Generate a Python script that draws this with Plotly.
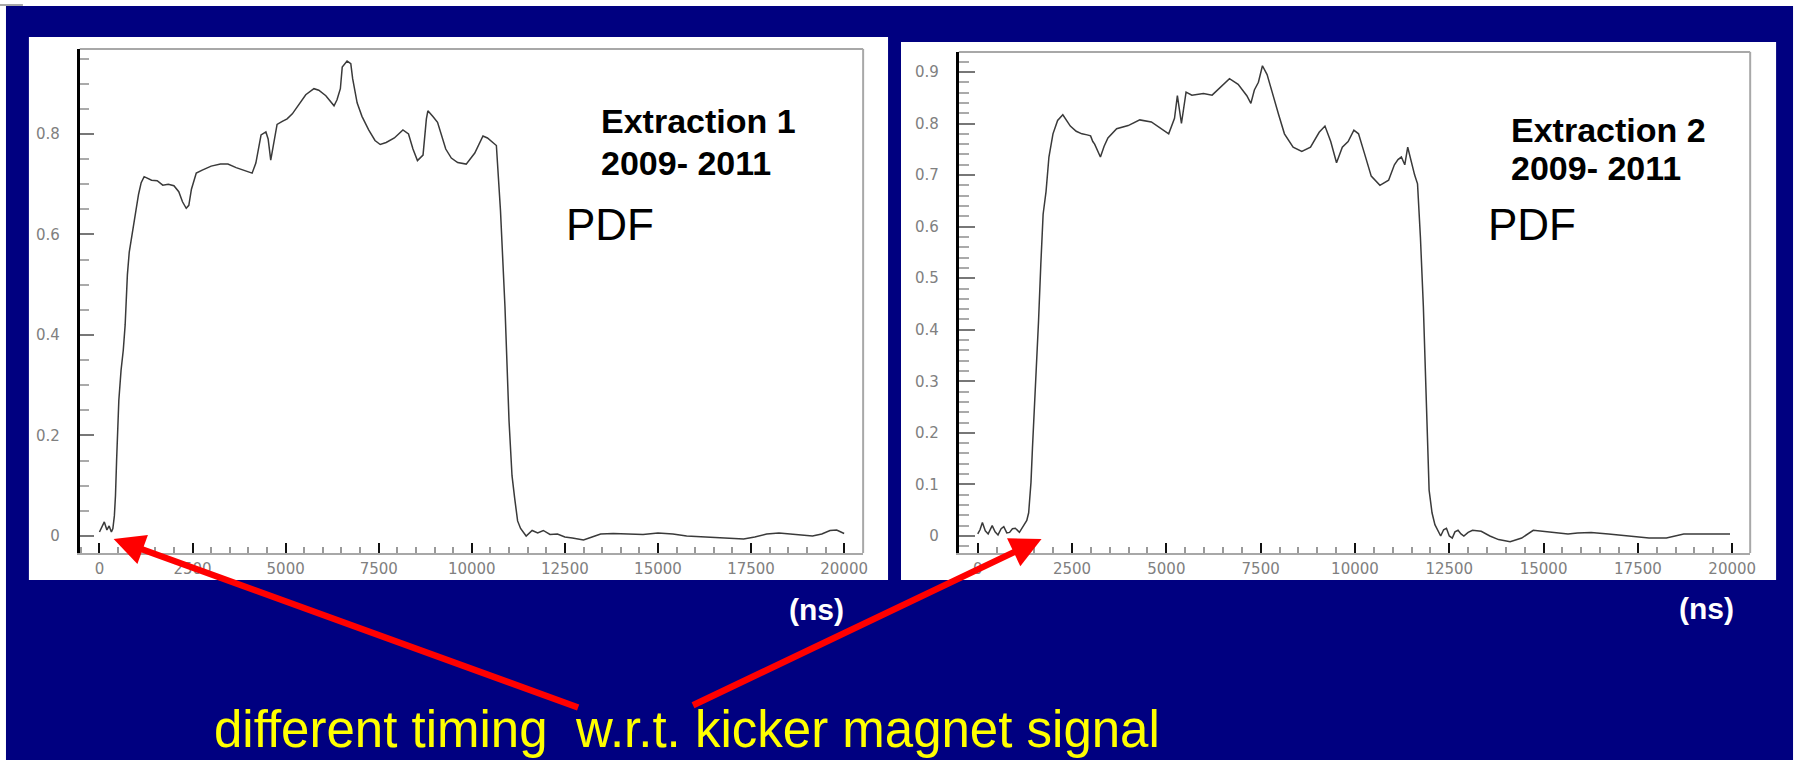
import plotly.graph_objects as go

# ---------------- data ----------------
ext1_ns = [0, 60, 130, 200, 260, 320, 360, 400, 430, 460, 520, 580, 640, 690, 750, 800, 860, 920, 980,
           1050, 1120, 1200, 1300, 1400, 1550, 1700, 1850, 2000, 2130, 2230, 2330, 2400, 2470, 2600,
           2760, 3000, 3250, 3450, 3670, 3900, 4100, 4200, 4290, 4340, 4470, 4530, 4600, 4690, 4770,
           4910, 5040, 5180, 5360, 5540, 5760, 5890, 6080, 6300, 6380, 6470, 6520, 6650, 6750, 6800,
           6920, 7050, 7230, 7400, 7540, 7700, 7920, 8150, 8300, 8420, 8540, 8690, 8780, 8820, 8950,
           9080, 9300, 9450, 9620, 9850, 10080, 10300, 10420, 10540, 10660, 10770, 10890, 11000, 11080,
           11150, 11230, 11310, 11460, 11620, 11770, 11920, 12100, 12300, 12500, 12700, 13000, 13230,
           13460, 13800, 14230, 14600, 15000, 15400, 15770, 16200, 16700, 17300, 17600, 17920, 18250,
           18540, 18850, 19150, 19400, 19620, 19800, 20000]
ext1_pdf = [0.008, 0.018, 0.028, 0.012, 0.02, 0.008, 0.015, 0.04, 0.08, 0.15, 0.27, 0.33, 0.37, 0.42,
            0.52, 0.565, 0.59, 0.62, 0.648, 0.68, 0.703, 0.715, 0.712, 0.708, 0.707, 0.698, 0.70, 0.697,
            0.685, 0.665, 0.652, 0.658, 0.69, 0.722, 0.728, 0.736, 0.74, 0.74, 0.733, 0.727, 0.722,
            0.742, 0.774, 0.798, 0.804, 0.79, 0.748, 0.79, 0.819, 0.825, 0.83, 0.84, 0.858, 0.878, 0.89,
            0.887, 0.876, 0.856, 0.868, 0.89, 0.933, 0.945, 0.94, 0.91, 0.862, 0.835, 0.808, 0.787,
            0.779, 0.783, 0.792, 0.808, 0.80, 0.77, 0.747, 0.758, 0.83, 0.846, 0.835, 0.823, 0.77,
            0.752, 0.743, 0.74, 0.762, 0.796, 0.792, 0.785, 0.777, 0.648, 0.457, 0.229, 0.12, 0.076,
            0.03, 0.015, 0.0, 0.011, 0.006, 0.011, 0.003, 0.004, -0.002, -0.004, -0.008, -0.002, 0.004,
            0.005, 0.004, 0.003, 0.006, 0.004, 0.0, -0.002, -0.004, -0.006, -0.002, 0.004, 0.006, 0.004,
            0.002, 0.0, 0.004, 0.011, 0.012, 0.005]

ext2_ns = [0, 60, 123, 200, 276, 383, 460, 537, 620, 690, 770, 844, 920, 997, 1104, 1227, 1300, 1350,
           1411, 1450, 1488, 1549, 1611, 1672, 1733, 1810, 1887, 1994, 2117, 2255, 2454, 2610, 2761,
           2900, 2991, 3050, 3099, 3252, 3350, 3451, 3682, 3988, 4295, 4602, 4909, 5062, 5216, 5292,
           5400, 5522, 5676, 5983, 6213, 6443, 6673, 6903, 7133, 7240, 7333, 7440, 7547, 7670, 7823,
           7977, 8130, 8360, 8590, 8821, 9051, 9204, 9357, 9511, 9664, 9818, 9971, 10094, 10247, 10431,
           10661, 10891, 11045, 11140, 11229, 11320, 11398, 11505, 11582, 11658, 11735, 11812, 11888,
           11965, 12042, 12119, 12272, 12350, 12425, 12500, 12579, 12650, 12732, 12810, 12886, 13000,
           13116, 13346, 13576, 13806, 14113, 14420, 14726, 15187, 15647, 15900, 16260, 16721, 17181,
           17794, 18255, 18715, 19328, 19942]
ext2_pdf = [0.004, 0.012, 0.026, 0.01, 0.004, 0.02, 0.008, 0.002, 0.014, 0.018, 0.006, 0.007, 0.014,
            0.015, 0.007, 0.02, 0.03, 0.045, 0.104, 0.17, 0.23, 0.297, 0.416, 0.527, 0.624, 0.668,
            0.735, 0.78, 0.806, 0.817, 0.795, 0.785, 0.78, 0.778, 0.776, 0.765, 0.76, 0.735, 0.756,
            0.772, 0.79, 0.796, 0.807, 0.803, 0.787, 0.78, 0.81, 0.854, 0.80, 0.861, 0.855, 0.858,
            0.855, 0.872, 0.887, 0.876, 0.854, 0.839, 0.865, 0.88, 0.912, 0.895, 0.854, 0.817, 0.78,
            0.754, 0.746, 0.754, 0.783, 0.795, 0.765, 0.724, 0.754, 0.765, 0.787, 0.78, 0.743, 0.698,
            0.68, 0.69, 0.72, 0.73, 0.735, 0.72, 0.754, 0.72, 0.70, 0.683, 0.579, 0.446, 0.26, 0.089,
            0.045, 0.022, 0.0, 0.012, 0.015, 0.0, -0.004, 0.008, 0.011, 0.004, 0.0, 0.007, 0.011,
            0.009, 0.0, -0.007, -0.011, -0.004, 0.011, 0.007, 0.004, 0.006, 0.007, 0.004, 0.0, -0.004,
            -0.004, 0.004, 0.004, 0.004]

x_tickvals = [0, 2500, 5000, 7500, 10000, 12500, 15000, 17500, 20000]
x_ticktext = ["0", "2500", "5000", "7500", "10000", "12500", "15000", "17500", "20000"]
y1_tickvals = [0, 0.2, 0.4, 0.6, 0.8]
y1_ticktext = ["0", "0.2", "0.4", "0.6", "0.8"]
y2_tickvals = [0, 0.1, 0.2, 0.3, 0.4, 0.5, 0.6, 0.7, 0.8, 0.9]
y2_ticktext = ["0", "0.1", "0.2", "0.3", "0.4", "0.5", "0.6", "0.7", "0.8", "0.9"]

titles = ["Extraction 1", "Extraction 2"]
period = "2009- 2011"
pdf_label = "PDF"
unit_label = "(ns)"
caption = "different timing  w.r.t. kicker magnet signal"

# ---------------- layout helpers ----------------
W, H = 1809, 760
def px(x):
    return x / W
def py(y):
    return 1 - y / H

NAVY = "#000080"
CURVE = "#3a3a3a"
TICKFONT = dict(family="DejaVu Sans, Liberation Sans, Arial", size=15, color="#808080")

fig = go.Figure()
fig.add_trace(go.Scatter(x=ext1_ns, y=ext1_pdf, mode="lines", line=dict(color=CURVE, width=1.5),
                         xaxis="x", yaxis="y", showlegend=False, hoverinfo="skip"))
fig.add_trace(go.Scatter(x=ext2_ns, y=ext2_pdf, mode="lines", line=dict(color=CURVE, width=1.5),
                         xaxis="x2", yaxis="y2", showlegend=False, hoverinfo="skip"))

def xax(domain, rng, anchor):
    return dict(domain=domain, range=rng, anchor=anchor, showgrid=False, zeroline=False,
                showline=True, linecolor="#a8a8a8", linewidth=2,
                ticks="inside", ticklen=10, tickwidth=2, tickcolor="#111",
                tickmode="array", tickvals=x_tickvals, ticktext=x_ticktext,
                minor=dict(ticks="inside", ticklen=6, tickwidth=2, tickcolor="#999",
                           tickmode="linear", tick0=0, dtick=500),
                ticklabelstandoff=1, tickfont=TICKFONT, fixedrange=True)

def yax(domain, rng, anchor, vals, texts, mdt, majlen, minlen):
    return dict(domain=domain, range=rng, anchor=anchor, showgrid=False, zeroline=False,
                showline=True, linecolor="#000", linewidth=3,
                ticks="inside", ticklen=majlen, tickwidth=2, tickcolor="#777",
                tickmode="array", tickvals=vals, ticktext=texts,
                minor=dict(ticks="inside", ticklen=minlen, tickwidth=2, tickcolor="#aaa",
                           tickmode="linear", tick0=0, dtick=mdt),
                ticklabelstandoff=14, tickfont=TICKFONT, fixedrange=True)

# plot-area pixel boxes
L = dict(x0=80, x1=866, y0=49, y1=553)
R = dict(x0=962, x1=1756, y0=52, y1=553)

fig.update_layout(
    width=W, height=H, margin=dict(l=0, r=0, t=0, b=0),
    paper_bgcolor="white", plot_bgcolor="rgba(0,0,0,0)",
    xaxis=xax([px(L["x0"]), px(L["x1"])], [-530, 20510], "y"),
    yaxis=yax([py(L["y1"]), py(L["y0"])], [-0.0338, 0.969], "x", y1_tickvals, y1_ticktext, 0.05, 14, 9),
    xaxis2=xax([px(R["x0"]), px(R["x1"])], [-502, 20476], "y2"),
    yaxis2=yax([py(R["y1"]), py(R["y0"])], [-0.033, 0.9387], "x2", y2_tickvals, y2_ticktext, 0.02, 16, 10),
)

shapes = []
# navy slide background
shapes.append(dict(type="rect", xref="paper", yref="paper", x0=px(6), x1=px(1799), y0=py(760), y1=py(6),
                   fillcolor=NAVY, line=dict(width=0), layer="below"))
# small grey mark top-left
shapes.append(dict(type="line", xref="paper", yref="paper", x0=px(0), x1=px(23), y0=py(5), y1=py(5),
                   line=dict(color="#a8a8a8", width=2), layer="below"))
# white chart panels
shapes.append(dict(type="rect", xref="paper", yref="paper", x0=px(29), x1=px(891), y0=py(580), y1=py(37),
                   fillcolor="white", line=dict(width=0), layer="below"))
shapes.append(dict(type="rect", xref="paper", yref="paper", x0=px(904), x1=px(1782), y0=py(580), y1=py(42),
                   fillcolor="white", line=dict(width=0), layer="below"))
# grey top/right frame lines
for xr, yr in (("x domain", "y domain"), ("x2 domain", "y2 domain")):
    shapes.append(dict(type="line", xref=xr, yref=yr, x0=0, x1=1, y0=1, y1=1,
                       line=dict(color="#a8a8a8", width=2), layer="below"))
    shapes.append(dict(type="line", xref=xr, yref=yr, x0=1, x1=1, y0=0, y1=1,
                       line=dict(color="#a8a8a8", width=2), layer="below"))
fig.update_layout(shapes=shapes)

ARIAL = "Liberation Sans, Arial, sans-serif"
ann = []
def txt(x, y, s, size, color="black", bold=False):
    ann.append(dict(xref="paper", yref="paper", x=px(x), y=py(y), xanchor="left", yanchor="middle",
                    text=("<b>%s</b>" % s) if bold else s, showarrow=False,
                    font=dict(family=ARIAL, size=size, color=color)))

txt(601, 121, titles[0], 34, bold=True)
txt(601, 163, period, 34, bold=True)
txt(566, 224, pdf_label, 44)
txt(1514, 130, titles[1], 34, bold=True)
txt(1514, 168, period, 34, bold=True)
txt(1491, 224, pdf_label, 44)
txt(790, 609, unit_label, 30, color="white", bold=True)
txt(1683, 608, unit_label, 30, color="white", bold=True)
txt(213, 729, caption, 51, color="#ffff00")

# red arrows: (head x, head y, tail x, tail y) in pixels
for hx, hy, tx, ty in ((114, 539, 580, 708), (1045, 539, 695, 706)):
    ann.append(dict(xref="paper", yref="paper", x=px(hx), y=py(hy), text="", showarrow=True,
                    axref="pixel", ayref="pixel", ax=tx - hx, ay=ty - hy,
                    arrowhead=2, arrowsize=0.95, arrowwidth=6.5, arrowcolor="#ff0000"))
fig.update_layout(annotations=ann)

fig.write_html("out.html")
